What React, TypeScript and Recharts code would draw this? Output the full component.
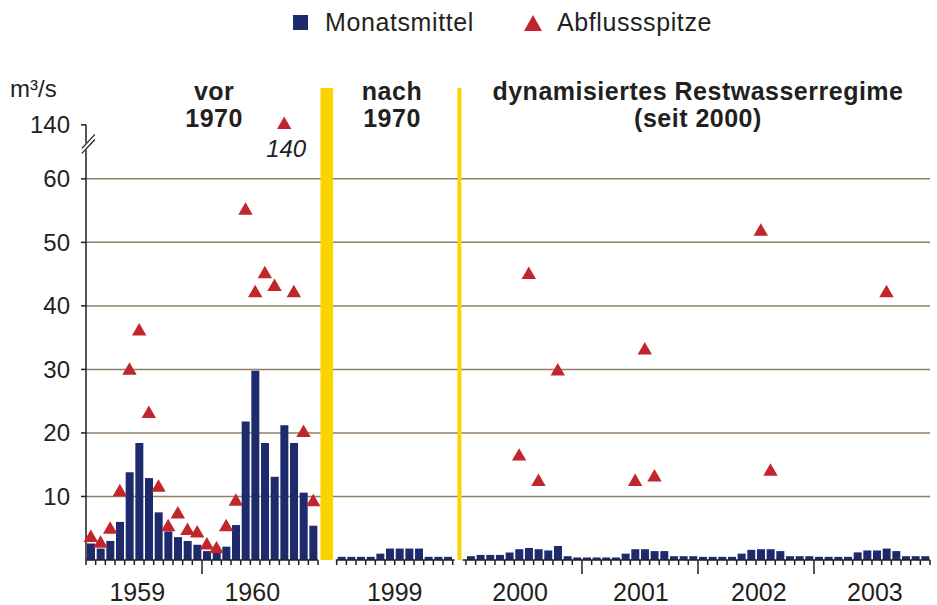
import {
  ComposedChart, Bar, Scatter, XAxis, YAxis, ZAxis, CartesianGrid,
  ReferenceArea, ReferenceLine, LabelList
} from 'recharts'

const NAVY = '#1d2b6c'
const RED = '#c1262c'
const YELLOW = '#fcd200'
const INK = '#231f20'
const GRID = '#8f7e66'
const FONT = '"Liberation Sans", Arial, Helvetica, sans-serif'

// monthly means (m³/s)
const MEAN_1959_60 = [
  2.6, 1.8, 3.0, 6.0, 13.8, 18.4, 12.9, 7.5, 4.5, 3.6, 3.0, 2.4,
  1.4, 1.4, 2.1, 5.5, 21.8, 29.8, 18.4, 13.1, 21.2, 18.4, 10.6, 5.4,
]
const MEAN_1999 = [0.5, 0.5, 0.5, 0.5, 1.0, 1.8, 1.8, 1.8, 1.8, 0.5, 0.5, 0.5]
const MEAN_2000_03 = [
  0.6, 0.8, 0.8, 0.8, 1.2, 1.7, 1.9, 1.7, 1.5, 2.2, 0.6, 0.4,
  0.4, 0.4, 0.4, 0.4, 1.0, 1.7, 1.7, 1.4, 1.4, 0.6, 0.6, 0.6,
  0.5, 0.5, 0.5, 0.5, 1.0, 1.6, 1.7, 1.7, 1.4, 0.6, 0.6, 0.6,
  0.5, 0.5, 0.5, 0.5, 1.2, 1.5, 1.5, 1.8, 1.4, 0.6, 0.6, 0.6,
]

// monthly peaks (null = none shown)
const PEAK_1959_60 = [
  3.5, 2.6, 4.8, 10.7, 29.8, 36, 23, 11.4, 5.2, 7.2, 4.6, 4.2,
  2.3, 1.7, 5.2, 9.2, 55, 42, 45, 43, 140, 42, 20, 9.1,
]
const PEAK_2000_03: (number | null)[] = [
  null, null, null, null, null, 16.3, 44.9, 12.3, null, 29.7, null, null,
  null, null, null, null, null, 12.3, 33, 13.0, null, null, null, null,
  null, null, null, null, null, null, 51.7, 13.9, null, null, null, null,
  null, null, null, null, null, null, null, 42, null, null, null, null,
]

const YEARS = ['1959', '1960', '1999', '2000', '2001', '2002', '2003']
const Y_TICKS = [10, 20, 30, 40, 50, 60]
const BREAK_VALUE = 140

// layout of the month axis (1 unit = 1 month), sections separated by gaps
const START_A = 0
const START_B = 25.93
const START_C = 39.3
const X_MAX = 87.3
const Y_MAX = 74.3
const BREAK_AT = 68.5

const rows = [
  ...MEAN_1959_60.map((v, i) => ({ x: START_A + i + 0.5, mean: v, peak: PEAK_1959_60[i] as number | null })),
  ...MEAN_1999.map((v, i) => ({ x: START_B + i + 0.5, mean: v, peak: null as number | null })),
  ...MEAN_2000_03.map((v, i) => ({ x: START_C + i + 0.5, mean: v, peak: PEAK_2000_03[i] })),
]

const peakRows = rows
  .filter(r => r.peak != null)
  .map(r => ({
    x: r.x,
    y: (r.peak as number) > 60 ? BREAK_AT : r.peak,
    label: (r.peak as number) > 60 ? String(r.peak) : '',
  }))

const range = (n: number) => Array.from({ length: n }, (_, i) => i)
const monthTicks = [
  ...range(25).map(i => START_A + i),
  ...range(13).map(i => START_B + i),
  ...range(49).map(i => START_C + i),
]
const majorTicks = [START_A + 12, START_C + 12, START_C + 24, START_C + 36]
const yearMids = [START_A + 5.3, START_A + 17.2, START_B + 6, START_C + 5.6, START_C + 18.1, START_C + 30.3, START_C + 42.3]

const MonthTick = (props: any) => {
  const { x, y, payload } = props
  const major = majorTicks.some(m => Math.abs(m - payload.value) < 0.01)
  return <line x1={x} x2={x} y1={y} y2={y + (major ? 14 : 5)} stroke={INK} strokeWidth={1.5} />
}

const sectionTitle = (lines: string[]) => (props: any) => {
  const { x, y, width } = props.viewBox
  const cx = x + width / 2
  return (
    <g>
      {lines.map((l, i) => (
        <text key={i} x={cx} y={y + 12 + i * 27} textAnchor="middle" fontFamily={FONT} fontWeight={700}
          fontSize={25} letterSpacing={0.5} fill={INK}>{l}</text>
      ))}
    </g>
  )
}

const breakLabel = (props: any) => {
  if (!props.value) return null
  const vb = props.viewBox || props
  const cx = props.cx ?? vb.x + vb.width / 2
  const cy = props.cy ?? vb.y + vb.height / 2
  return (
    <text x={cx + 2} y={cy + 32} textAnchor="middle" fontFamily={FONT} fontStyle="italic" fontSize={24} fill={INK}>
      {props.value}
    </text>
  )
}

const unitLabel = (props: any) => {
  const { x, y, width } = props.viewBox
  return (
    <text x={x + width - 76} y={y + 9} fontFamily={FONT} fontSize={24} fill={INK}>m³/s</text>
  )
}

export default function App() {
  return (
    <div style={{ position: 'absolute', left: 0, top: 0, width: 937, height: 605, background: '#fff', fontFamily: FONT }}>
      {/* legend */}
      <div style={{ position: 'absolute', top: 8, left: 0, width: 937, display: 'flex', justifyContent: 'center', alignItems: 'center', color: INK, fontSize: 25, letterSpacing: 0.6, paddingLeft: 68, boxSizing: 'border-box' }}>
        <svg width={15} height={15} style={{ marginRight: 17 }}><rect width={15} height={15} fill={NAVY} /></svg>
        <span>Monatsmittel</span>
        <svg width={18} height={16} style={{ marginLeft: 50, marginRight: 15 }}><polygon points="9,0 18,16 0,16" fill={RED} /></svg>
        <span>Abflussspitze</span>
      </div>

      <ComposedChart width={937} height={605} data={rows} margin={{ top: 88, right: 7, bottom: 0, left: 26 }}>
        <CartesianGrid xAxisId="m" vertical={false} horizontalValues={Y_TICKS} stroke={GRID} strokeWidth={1.5} />
        <XAxis xAxisId="m" type="number" dataKey="x" domain={[0, X_MAX]} ticks={monthTicks} interval={0}
          axisLine={false} tickLine={false} tickSize={0} tickMargin={0} height={13} tick={<MonthTick />} />
        <XAxis xAxisId="yr" type="number" dataKey="x" domain={[0, X_MAX]} ticks={yearMids} interval={0}
          axisLine={false} tickLine={false} tickSize={0} tickMargin={10} height={32}
          tickFormatter={(v: number) => YEARS[yearMids.findIndex(m => Math.abs(m - v) < 0.01)] ?? ''}
          tick={{ fontSize: 25, fill: INK, fontFamily: FONT }} />
        <YAxis type="number" domain={[0, Y_MAX]} allowDataOverflow ticks={[...Y_TICKS, BREAK_AT]} interval={0}
          tickFormatter={(v: number) => (v === BREAK_AT ? String(BREAK_VALUE) : String(v))}
          width={60} axisLine={false} tickLine={{ stroke: INK, strokeWidth: 1.5 }} tickSize={5} tickMargin={11}
          tick={{ fontSize: 24, fill: INK, fontFamily: FONT }} label={{ content: unitLabel }} />
        <ZAxis range={[90, 90]} />

        {/* section titles */}
        <ReferenceArea xAxisId="m" x1={START_A + 1} x2={25.5} y1={0} y2={Y_MAX} fill="none" fillOpacity={0} label={sectionTitle(['vor', '1970'])} />
        <ReferenceArea xAxisId="m" x1={25.55} x2={37.75} y1={0} y2={Y_MAX} fill="none" fillOpacity={0} label={sectionTitle(['nach', '1970'])} />
        <ReferenceArea xAxisId="m" x1={START_C} x2={X_MAX} y1={0} y2={Y_MAX} fill="none" fillOpacity={0} label={sectionTitle(['dynamisiertes Restwasserregime', '(seit 2000)'])} />

        {/* separators */}
        <ReferenceArea xAxisId="m" x1={24.25} x2={25.55} y1={0} y2={Y_MAX} fill={YELLOW} fillOpacity={1} stroke="none" />
        <ReferenceLine xAxisId="m" x={38.63} stroke={YELLOW} strokeWidth={4} />

        <Bar xAxisId="m" dataKey="mean" fill={NAVY} barSize={8} isAnimationActive={false} />
        <Scatter xAxisId="m" data={peakRows} dataKey="y" shape="triangle" fill={RED} isAnimationActive={false}>
          <LabelList dataKey="label" content={breakLabel} />
        </Scatter>

        {/* axes lines */}
        <ReferenceLine xAxisId="m" segment={[{ x: 0, y: 0 }, { x: 0, y: BREAK_AT }]} stroke={INK} strokeWidth={1.5} />
        <ReferenceLine xAxisId="m" segment={[{ x: START_A, y: 0 }, { x: START_A + 24, y: 0 }]} stroke={INK} strokeWidth={1.5} />
        <ReferenceLine xAxisId="m" segment={[{ x: START_B - 0.1, y: 0 }, { x: START_B + 12.2, y: 0 }]} stroke={INK} strokeWidth={1.5} />
        <ReferenceLine xAxisId="m" segment={[{ x: START_C - 0.35, y: 0 }, { x: X_MAX, y: 0 }]} stroke={INK} strokeWidth={1.5} />

        {/* axis break mark */}
        <ReferenceLine xAxisId="m" ifOverflow="visible" segment={[{ x: -0.42, y: 64.4 }, { x: 0.92, y: 66.6 }]} stroke="#fff" strokeWidth={5} />
        <ReferenceLine xAxisId="m" ifOverflow="visible" segment={[{ x: -0.42, y: 64.0 }, { x: 0.92, y: 66.2 }]} stroke={INK} strokeWidth={1.3} />
        <ReferenceLine xAxisId="m" ifOverflow="visible" segment={[{ x: -0.42, y: 64.8 }, { x: 0.92, y: 67.0 }]} stroke={INK} strokeWidth={1.3} />
      </ComposedChart>
    </div>
  )
}
